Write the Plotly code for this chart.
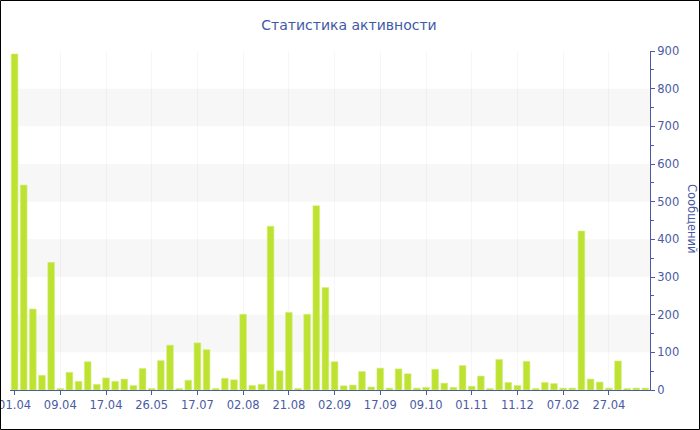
import plotly.graph_objects as go

# Messages per period
values = [892, 544, 215, 39, 339, 4, 47, 23, 75, 15,
          32, 23, 29, 12, 57, 4, 78, 119, 4, 26,
          125, 107, 4, 31, 27, 201, 12, 15, 435, 51,
          206, 4, 201, 489, 272, 75, 11, 13, 49, 8,
          58, 5, 56, 43, 5, 7, 55, 18, 7, 65,
          10, 37, 4, 81, 20, 12, 76, 4, 20, 17,
          5, 5, 422, 29, 21, 5, 77, 4, 5, 5]

tick_labels = ["01.04", "09.04", "17.04", "26.05", "17.07", "02.08", "21.08",
               "02.09", "17.09", "09.10", "01.11", "11.12", "07.02", "27.04"]
tick_step = 5

title_text = "Статистика активности"
y_title = "Сообщений"

x = list(range(len(values)))
tickvals = [i * tick_step for i in range(len(tick_labels))]

AXIS = "#4a5ba4"
BAR = "#bde232"
FONT = "DejaVu Sans"

W, H = 700, 430
ML, MR, MT, MB = 10, 50, 51, 40
PW, PH = W - ML - MR, H - MT - MB

fig = go.Figure()
fig.add_trace(go.Bar(
    x=x, y=values,
    marker=dict(color=BAR, line=dict(color="#d4ef7a", width=0.6)),
    hoverinfo="y",
))

shapes = []
for lo in (100, 300, 500, 700):
    shapes.append(dict(type="rect", xref="paper", yref="y",
                       x0=0.0125, x1=1, y0=lo, y1=lo + 100,
                       fillcolor="#f7f7f7", line=dict(width=0), layer="below"))
# outer 1px black border
shapes.append(dict(type="rect", xref="paper", yref="paper",
                   x0=(0.5 - ML) / PW, x1=(W - 0.5 - ML) / PW,
                   y0=(PH + MT - H + 0.5) / PH, y1=(PH + MT - 0.5) / PH,
                   line=dict(color="black", width=1), fillcolor="rgba(0,0,0,0)"))

fig.update_layout(
    width=W, height=H,
    margin=dict(l=ML, r=MR, t=MT, b=MB, autoexpand=False),
    paper_bgcolor="white", plot_bgcolor="white",
    font=dict(family=FONT, color=AXIS, size=11.5),
    title=dict(text=title_text, x=349 / W, xref="container", xanchor="center",
               y=1 - 25 / H, yref="container", yanchor="middle",
               font=dict(family=FONT, size=14, color="#3f59a8")),
    bargap=0.27,
    showlegend=False,
    shapes=shapes,
    annotations=[dict(text=y_title, textangle=90, xref="paper", yref="paper",
                      x=(692 - ML) / PW, y=(390 - 219) / PH,
                      xanchor="center", yanchor="middle", showarrow=False,
                      font=dict(family=FONT, size=11.5, color=AXIS))],
    xaxis=dict(range=[-0.5, len(values) - 0.5], tickmode="array",
               tickvals=tickvals, ticktext=tick_labels,
               ticklabeloverflow="allow",
               showline=True, linecolor=AXIS, linewidth=1,
               ticks="outside", ticklen=4, tickcolor=AXIS,
               showgrid=True, gridcolor="rgba(0,0,0,0.03)",
               zeroline=False, fixedrange=True, automargin=False),
    yaxis=dict(side="right", range=[0, 900], dtick=100,
               showline=True, linecolor=AXIS, linewidth=1,
               ticks="outside", ticklen=4, tickcolor=AXIS,
               minor=dict(ticks="outside", ticklen=3, dtick=50, tickcolor=AXIS),
               showgrid=False, zeroline=False, fixedrange=True, automargin=False),
)

fig.write_html("out.html", config={"displayModeBar": False},
               post_script="document.body.style.margin='0';document.body.style.padding='0';")
